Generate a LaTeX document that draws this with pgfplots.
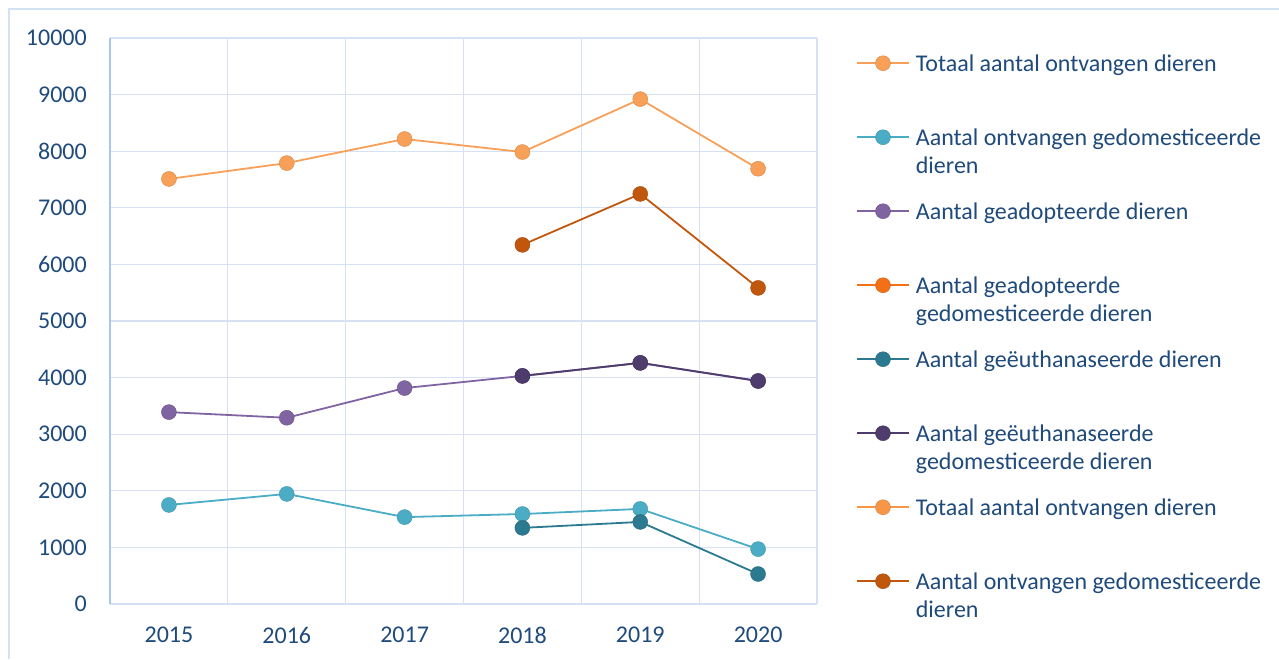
\documentclass[border=0pt]{standalone}
\usepackage{fontspec}
\setmainfont{Carlito}
\usepackage{pgfplots}
\pgfplotsset{compat=1.18}
\definecolor{frame}{HTML}{D3E2F2}
\definecolor{gridc}{HTML}{D6E2F3}
\definecolor{yaxc}{HTML}{A6C6EA}
\definecolor{txt}{HTML}{1F4A7C}
\definecolor{ctot}{HTML}{F8A058}
\definecolor{ccyan}{HTML}{4BACC6}
\definecolor{cpur}{HTML}{8064A2}
\definecolor{corg}{HTML}{F37018}
\definecolor{cteal}{HTML}{2B7A90}
\definecolor{cdpur}{HTML}{4E3C6C}
\definecolor{ctot2}{HTML}{F79646}
\definecolor{cdorg}{HTML}{C0570D}
\begin{document}
\begin{tikzpicture}[x=1pt,y=1pt]
\draw[frame, line width=1.5pt] (9,0) -- (9,650) -- (1279,650);
\begin{axis}[
  at={(110pt,55pt)}, anchor=south west, scale only axis,
  width=707pt, height=566pt,
  xmin=-0.5, xmax=5.5, ymin=0, ymax=10000,
  xtick={0,1,2,3,4,5}, xticklabels={2015,2016,2017,2018,2019,2020},
  minor xtick={0.5,1.5,2.5,3.5,4.5,5.5},
  ytick={0,1000,...,10000},
  xminorgrids=true, ymajorgrids=true, xmajorgrids=false,
  major grid style={gridc, line width=1.3pt},
  minor grid style={gridc, line width=1.3pt},
  axis x line*=bottom, axis y line*=left,
  x axis line style={gridc, line width=1.3pt, -},
  y axis line style={yaxc, line width=1.6pt, -},
  major tick length=0pt, minor tick length=0pt,
  tick style={draw=none},
  scaled ticks=false,
  /pgf/number format/.cd, 1000 sep={}, assume math mode=true, /pgfplots/.cd,
  tick label style={font=\fontsize{24}{29}\selectfont, text=txt, inner sep=0pt},
  yticklabel style={xshift=-23pt},
  xticklabel style={yshift=-23pt},
  every axis plot/.append style={line width=1.8pt, mark=*, mark size=7.5pt},
  legend image code/.code={
    \draw[#1, mark=none] (0pt,8pt) -- (52pt,8pt);
    \draw[#1, only marks, mark size=7.5pt] plot coordinates {(26pt,8pt)};
  },
  legend style={draw=none, fill=none, inner sep=0pt, at={(1.055,0.977)}, anchor=north west,
    font=\fontsize{24}{28.5}\selectfont, text=txt,
    nodes={inner sep=0pt, text height=20pt, text depth=54pt},
    cells={anchor=base west},
    row sep=0pt,
    /tikz/every odd column/.append style={column sep=6pt}},
]
\addplot[ctot, mark options={fill=ctot, draw=ctot!85!black, line width=0.4pt}] coordinates {(0,7510)(1,7790)(2,8215)(3,7985)(4,8920)(5,7690)};
\addlegendentry{Totaal aantal ontvangen dieren}
\addplot[ccyan, mark options={fill=ccyan, draw=ccyan!85!black, line width=0.4pt}] coordinates {(0,1750)(1,1945)(2,1535)(3,1590)(4,1680)(5,970)};
\addlegendentry{\parbox[t]{360pt}{Aantal ontvangen gedomesticeerde\\dieren}}
\addplot[cpur, mark options={fill=cpur, draw=cpur!85!black, line width=0.4pt}] coordinates {(0,3390)(1,3290)(2,3815)(3,4030)(4,4260)(5,3940)};
\addlegendentry{Aantal geadopteerde dieren}
\addlegendimage{corg, line width=1.8pt, mark=*, mark options={fill=corg, draw=corg!85!black, line width=0.4pt}}
\addlegendentry{\parbox[t]{360pt}{Aantal geadopteerde\\gedomesticeerde dieren}}
\addplot[cteal, mark options={fill=cteal, draw=cteal!85!black, line width=0.4pt}] coordinates {(3,1345)(4,1450)(5,530)};
\addlegendentry{Aantal geëuthanaseerde dieren}
\addplot[cdpur, mark options={fill=cdpur, draw=cdpur!85!black, line width=0.4pt}] coordinates {(3,4030)(4,4260)(5,3940)};
\addlegendentry{\parbox[t]{360pt}{Aantal geëuthanaseerde\\gedomesticeerde dieren}}
\addlegendimage{ctot2, line width=1.8pt, mark=*, mark options={fill=ctot2, draw=ctot2!85!black, line width=0.4pt}}
\addlegendentry{Totaal aantal ontvangen dieren}
\addplot[cdorg, mark options={fill=cdorg, draw=cdorg!85!black, line width=0.4pt}] coordinates {(3,6345)(4,7245)(5,5585)};
\addlegendentry{\parbox[t]{360pt}{Aantal ontvangen gedomesticeerde\\dieren}}
\end{axis}
\pgfresetboundingbox
\path[use as bounding box] (0,0) rectangle (1279,659);
\end{tikzpicture}
\end{document}
